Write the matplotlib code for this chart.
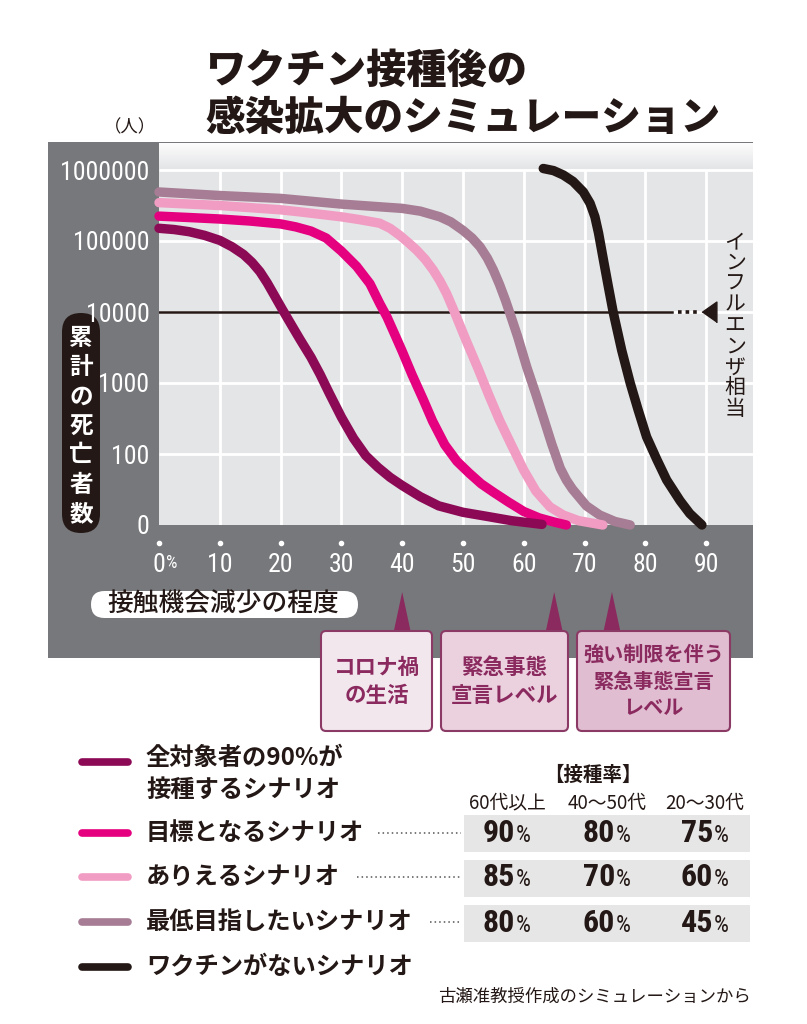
import numpy as np
import matplotlib.pyplot as plt
import matplotlib.transforms as mtrans
from matplotlib import font_manager
from matplotlib.font_manager import FontProperties
from matplotlib.patches import Rectangle, FancyBboxPatch, Polygon

JP = 'Noto Sans CJK JP'
plt.rcParams['font.family'] = [JP, 'DejaVu Sans']

# narrow font for the numbers, if one is installed
flist = font_manager.fontManager.ttflist
narrow = [f for f in flist if 'narrow' in f.name.lower() or 'condensed' in f.name.lower()
          or 'condensed' in str(f.stretch)]
narrow.sort(key=lambda f: (0 if 'Liberation' in f.name else 1 if 'Roboto' in f.name else 2))
if narrow:
    fam = narrow[0].name
    same = [f for f in narrow if f.name == fam and f.style == 'normal']
    reg = min(same, key=lambda f: abs(int(f.weight) - 400) if str(f.weight).isdigit() else 0)
    bld = min(same, key=lambda f: abs(int(f.weight) - 700) if str(f.weight).isdigit() else 0)
    NUM_R = FontProperties(fname=reg.fname)
    NUM_B = FontProperties(fname=bld.fname)
    nscale = 1.0
else:
    NUM_R = FontProperties(family='Liberation Sans')
    NUM_B = FontProperties(family='Liberation Sans', weight='bold')
    nscale = 0.8


def nfont(bold=False, size=18):
    fp = (NUM_B if bold else NUM_R).copy()
    fp.set_size(size * nscale)
    return fp


W, H = 807, 1024

# ---- data ----
reduction_ticks = [0, 10, 20, 30, 40, 50, 60, 70, 80, 90]
death_ticks = [10, 100, 1000, 10000, 100000, 1000000]
death_labels = ['0', '100', '1000', '10000', '100000', '1000000']

# 全対象者の90%が接種するシナリオ
x_all90 = [0, 2.5, 5, 7.5, 10, 12, 13.9, 15.3, 16.6, 17.8, 18.8, 20.2, 21.7, 23.2, 25, 26.5,
           28, 30, 32, 34, 36, 38, 40, 43, 46, 50, 54, 58, 63]
d_all90 = [151000, 145000, 135000, 120000, 102000, 83000, 64600, 50000, 37000, 25700, 18200,
           11200, 6760, 4100, 2300, 1320, 720, 330, 166, 95, 65, 47, 36, 25, 18.6, 15.1, 13.2,
           11.5, 10.2]
# 目標となるシナリオ
x_target = [0, 5, 10, 15, 20, 22.5, 25, 27.5, 30, 32.5, 34.7, 36.3, 37.5, 38.7, 40, 41.6,
            43.5, 45, 47, 49, 51, 53, 55, 57.5, 60, 62.5, 65, 67]
d_target = [224000, 214000, 204000, 191000, 174000, 158000, 138000, 110000, 72000, 44000,
            25000, 13200, 8500, 5000, 2800, 1320, 575, 290, 135, 79, 54, 38, 29, 21, 15.5,
            12.6, 11, 10]
# ありえるシナリオ
x_possible = [0, 10, 20, 23.2, 30, 33, 36.3, 38, 39.6, 41, 42.4, 43.8, 45.1, 46.2, 47.3, 48.6,
              50.5, 52.5, 54.3, 56, 58, 60, 62, 64.3, 66.5, 69, 73]
d_possible = [347000, 316000, 275000, 257000, 219000, 200000, 178000, 151000, 120000, 95000,
              74000, 55000, 39000, 27500, 18200, 10000, 4000, 1580, 660, 300, 132, 59, 30,
              18, 13.8, 11.5, 10]
# 最低目指したいシナリオ
x_minimum = [0, 10, 20, 30, 40, 43, 46.2, 48, 50, 51.5, 52.8, 54, 55, 56, 57, 58, 59, 60.5,
             62, 63.2, 64.6, 66, 67, 68, 70.3, 72.5, 75, 77.5]
d_minimum = [490000, 437000, 398000, 331000, 288000, 263000, 219000, 186000, 141000, 110000,
             83000, 57500, 39000, 24500, 14500, 8100, 4470, 1660, 690, 330, 138, 63, 43, 32,
             18.6, 13.8, 11.2, 10]
# ワクチンがないシナリオ
x_novax = [63.2, 64.9, 66.5, 68.1, 69.8, 70.9, 71.7, 72.3, 73.1, 73.9, 74.7, 76.1, 77.5, 78.8,
           80.2, 81.9, 83.5, 85.7, 87.3, 89.3]
d_novax = [1050000, 980000, 850000, 690000, 490000, 340000, 219000, 129000, 54000, 23000,
           10000, 2900, 1000, 420, 174, 83, 43, 22, 14.5, 10]

scenario_names = ['全対象者の90%が\n接種するシナリオ', '目標となるシナリオ', 'ありえるシナリオ',
                  '最低目指したいシナリオ', 'ワクチンがないシナリオ']
scenario_colors = ['#8c0a55', '#e4007f', '#f19cc3', '#a67d94', '#231815']

influenza_level = 10000

levels = [40, 65, 74.5]
level_labels = [['コロナ禍', 'の生活'], ['緊急事態', '宣言レベル'], ['強い制限を伴う', '緊急事態宣言', 'レベル']]

age_groups = ['60代以上', '40〜50代', '20〜30代']
rate_target = [90, 80, 75]
rate_possible = [85, 70, 60]
rate_minimum = [80, 60, 45]

# ---- figure ----
fig = plt.figure(figsize=(W / 100, H / 100), dpi=100, facecolor='white')

# overlay in pixel coordinates (y down)
ov = fig.add_axes([0, 0, 1, 1])
ov.set_xlim(0, W)
ov.set_ylim(H, 0)
ov.axis('off')
ov.set_zorder(0)

# dark panel
ov.add_patch(Rectangle((48, 142), 753 - 48, 658 - 142, color='#77787b', lw=0))

ax = fig.add_axes([159 / W, 1 - 525 / H, (753 - 159) / W, (525 - 143) / H])
ax.set_zorder(1)
ax.set_facecolor('#e4e5e7')
ax.set_yscale('log')
ax.set_xlim(0, 97.7)
ax.set_ylim(10, 10 ** (6 + 27 / 71))
for s in ax.spines.values():
    s.set_visible(False)

# soft white fade at top of plot area
nfade = 30
for i in range(nfade):
    y0 = 1 - (i + 1) * 0.065 / nfade
    ax.add_patch(Rectangle((0, y0), 1, 0.065 / nfade, transform=ax.transAxes,
                           color='white', alpha=0.9 * (1 - i / nfade), lw=0, zorder=0.5))

# grid
ax.vlines(reduction_ticks[1:], 10, 1e6, color='white', lw=2, zorder=1)
ax.hlines(death_ticks[1:], 0, 97.7, color='white', lw=2, zorder=1)

# influenza line
ax.plot([0, 84.4], [influenza_level] * 2, color='#231815', lw=1.8, zorder=2)
ax.plot([85.3, 89.0], [influenza_level] * 2, color='#231815', lw=2.6,
        linestyle=(0, (1, 1.1)), dash_capstyle='butt', zorder=2)
ax.plot([90.5], [influenza_level], marker=[(-0.71, 0), (0.71, 1), (0.71, -1)],
        ms=15, color='#231815', zorder=2)

# curves (back to front)
series = [(x_novax, d_novax, 4), (x_minimum, d_minimum, 3), (x_possible, d_possible, 2),
          (x_target, d_target, 1), (x_all90, d_all90, 0)]
for xs, ds, k in series:
    ax.plot(xs, ds, color=scenario_colors[k], lw=6.8, solid_capstyle='round',
            solid_joinstyle='round', clip_on=False, zorder=3 + (4 - k) * 0.1)

# ticks
ax.minorticks_off()
ax.set_yticks(death_ticks)
ax.set_yticklabels(death_labels, color='white')
ax.set_xticks(reduction_ticks)
ax.set_xticklabels([str(v) for v in reduction_ticks], color='white')
for lbl in ax.get_yticklabels() + ax.get_xticklabels():
    lbl.set_fontproperties(nfont(False, 18.5))
ax.tick_params(axis='y', length=0, pad=7)
ax.tick_params(axis='x', length=0, pad=20)
xt = ax.get_xaxis_transform()
ax.scatter(reduction_ticks, [-18 / 382] * len(reduction_ticks), s=9, color='white',
           transform=xt, clip_on=False, zorder=5)
ax.text(1.2, -38 / 382, '%', transform=xt, color='white', fontproperties=nfont(False, 13),
        ha='left', va='center')

# influenza text (vertical), drawn above the plot area
for i, ch in enumerate('インフルエンザ相当'):
    ax.text(735, 242 + i * 20.9, ch, transform=ov.transData, fontsize=15, color='#231815',
            ha='center', va='center', zorder=6)

# y label pill
ov.add_patch(FancyBboxPatch((62, 313), 38, 220, boxstyle='round,pad=0,rounding_size=19',
                            fc='#231815', ec='none'))
for i, ch in enumerate('累計の死亡者数'):
    ov.text(81, 338 + i * 29.3, ch, color='white', fontsize=17, fontweight='bold',
            ha='center', va='center')

ov.text(130, 127, '（人）', fontsize=12.5, color='#231815', ha='center', va='center')

# x label pill
ov.add_patch(FancyBboxPatch((91, 591), 267, 27, boxstyle='round,pad=0,rounding_size=13.5',
                            fc='white', ec='none'))
ov.text(223, 604, '接触機会減少の程度', fontsize=18.5, color='#231815', fontweight='medium',
        ha='center', va='center')

# title
ov.text(205, 71, 'ワクチン接種後の', fontsize=29, fontweight='black', color='#231815',
        ha='left', va='center')
ov.text(205, 118, '感染拡大のシミュレーション', fontsize=28.5, fontweight='black',
        color='#231815', ha='left', va='center')

# level arrows and boxes
bt = mtrans.blended_transform_factory(ax.transData, ov.transData)
half = 9 / 6.08
for lv in levels:
    ov.add_patch(Polygon([(lv - half, 634), (lv + half, 634), (lv, 592)], closed=True,
                         transform=bt, color='#8b2a5f', lw=0))
boxes = [(321, 111, '#f3e7ee', 15.5), (441, 127, '#ebd0de', 15.5), (577, 153, '#e0bdd0', 14.5)]
for (bx, bw, fc, fs), lines in zip(boxes, level_labels):
    ov.add_patch(FancyBboxPatch((bx, 631), bw, 100, boxstyle='round,pad=0,rounding_size=5',
                                fc=fc, ec='#8b3a66', lw=1.5))
    n = len(lines)
    sp = 28 if n == 2 else 26.5
    y0 = 681 - sp * (n - 1) / 2
    for j, t in enumerate(lines):
        ov.text(bx + bw / 2, y0 + j * sp, t, fontsize=fs, fontweight='bold', color='#8b2a5f',
                ha='center', va='center')

# legend
leg_y = [762, 833, 877, 922, 967]
for k, y in enumerate(leg_y):
    ov.plot([82, 128], [y, y], color=scenario_colors[k], lw=5.5, solid_capstyle='round')
ov.text(146, 758, '全対象者の90%が', fontsize=17.5, fontweight='bold', color='#231815', va='center')
ov.text(146, 790, '接種するシナリオ', fontsize=17.5, fontweight='bold', color='#231815', va='center')
for k in range(1, 5):
    ov.text(146, leg_y[k], scenario_names[k], fontsize=17.5, fontweight='bold',
            color='#231815', va='center')

# leaders
for x0, y in [(378, 833), (357, 877), (430, 922)]:
    ov.plot([x0, 461], [y, y], color='#555555', lw=1.1, linestyle=(0, (1, 2)))

# table
ov.text(593, 775, '【接種率】', fontsize=14, fontweight='bold', color='#231815',
        ha='center', va='center')
col_x = [507, 607, 705]
for cx, g in zip(col_x, age_groups):
    ov.text(cx, 803, g, fontsize=13.5, color='#231815', ha='center', va='center')
rows = [rate_target, rate_possible, rate_minimum]
row_y = [833, 878, 923]
for ry, vals in zip(row_y, rows):
    ov.add_patch(Rectangle((464, ry - 18.5), 286, 37, color='#e6e6e6', lw=0))
    for cx, v in zip(col_x, vals):
        ov.text(cx + 8, ry + 8.5, str(v), color='#231815', ha='right', va='baseline',
                fontproperties=nfont(True, 23))
        ov.text(cx + 9, ry + 8.5, '%', color='#231815', ha='left', va='baseline',
                fontproperties=nfont(False, 17))

ov.text(751, 997, '古瀬准教授作成のシミュレーションから', fontsize=12.5, color='#231815',
        ha='right', va='center')

fig.savefig('out.png', dpi=100, facecolor='white')
